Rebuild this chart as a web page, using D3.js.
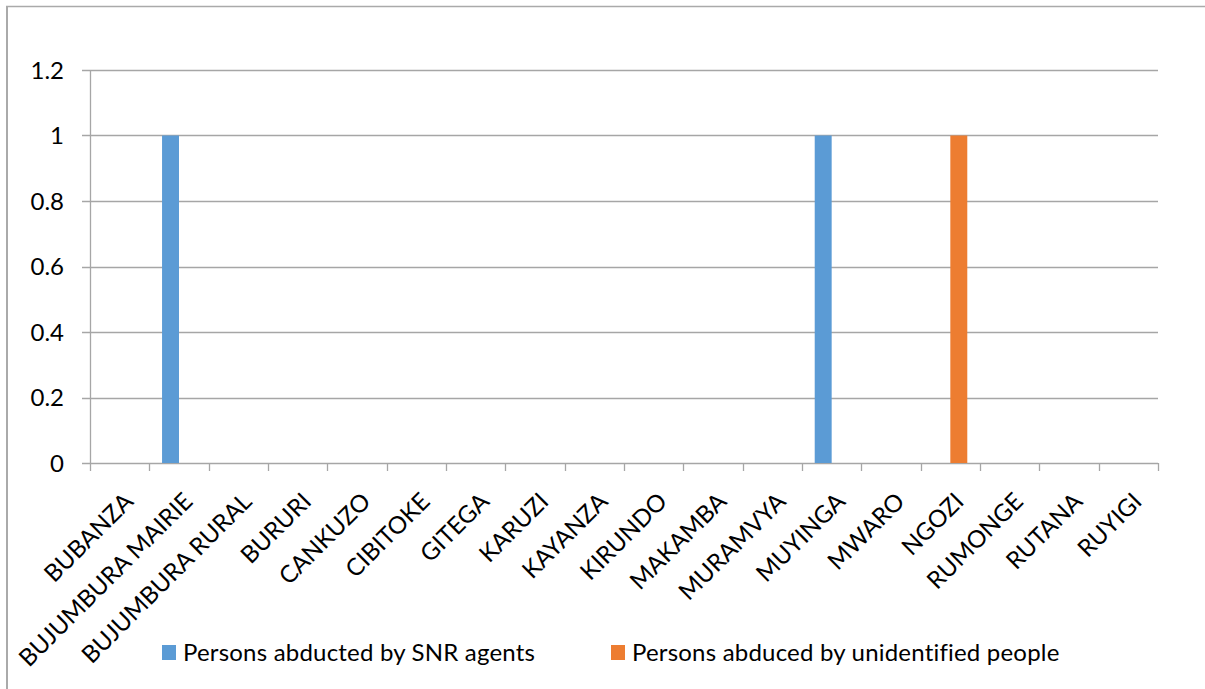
<!DOCTYPE html>
<html lang="en">
<head>
    <meta charset="UTF-8">
    <title>Abductions by province</title>
    <script src="https://d3js.org/d3.v7.min.js"></script>
    <style>
        body { margin: 0; background: #fff; }
        text { font-family: Lato, "Open Sans", sans-serif; fill: #000; }
    </style>
</head>
<body>
<script>
    // data
    const provinces = ["BUBANZA", "BUJUMBURA MAIRIE", "BUJUMBURA RURAL", "BURURI", "CANKUZO",
        "CIBITOKE", "GITEGA", "KARUZI", "KAYANZA", "KIRUNDO", "MAKAMBA", "MURAMVYA",
        "MUYINGA", "MWARO", "NGOZI", "RUMONGE", "RUTANA", "RUYIGI"];
    const seriesNames = ["Persons abducted by SNR agents", "Persons abduced by unidentified people"];
    const snrAgents =    [0, 1, 0, 0, 0, 0, 0, 0, 0, 0, 0, 0, 1, 0, 0, 0, 0, 0];
    const unidentified = [0, 0, 0, 0, 0, 0, 0, 0, 0, 0, 0, 0, 0, 0, 1, 0, 0, 0];
    const yTicks = [0, 0.2, 0.4, 0.6, 0.8, 1, 1.2];
    const colors = ["#5b9bd5", "#ed7d31"];

    const W = 1205, H = 689;
    const plotLeft = 90, plotRight = 1158, plotTop = 70, plotBottom = 463;
    const gridColor = "#a6a6a6";

    const svg = d3.select("body").append("svg")
        .attr("width", W)
        .attr("height", H);

    // frame (only left and top edges show in the picture)
    svg.append("line").attr("x1", 7).attr("x2", 7).attr("y1", 6).attr("y2", H)
        .style("stroke", "#aaaaaa").style("stroke-width", 2);
    svg.append("line").attr("x1", 6).attr("x2", W).attr("y1", 6.5).attr("y2", 6.5)
        .style("stroke", "#aaaaaa").style("stroke-width", 1.5);

    const x = d3.scaleBand().domain(provinces).range([plotLeft, plotRight]);
    const x1 = d3.scaleBand().domain(seriesNames).range([0, x.bandwidth()]).paddingOuter(0.75);
    const y = d3.scaleLinear().domain([0, 1.2]).range([plotBottom, plotTop]);

    // gridlines + left ticks
    svg.append("g")
        .selectAll("line").data(yTicks).enter().append("line")
        .attr("x1", plotLeft - 8).attr("x2", plotRight)
        .attr("y1", d => Math.round(y(d)) + 0.5).attr("y2", d => Math.round(y(d)) + 0.5)
        .style("stroke", gridColor).style("stroke-width", 1.3);

    svg.append("g")
        .selectAll("text").data(yTicks).enter().append("text")
        .attr("x", 64).attr("y", d => y(d) + 8.5)
        .attr("text-anchor", "end")
        .style("font-size", "24px")
        .text(d => d);

    // y axis line
    svg.append("line").attr("x1", plotLeft + 0.5).attr("x2", plotLeft + 0.5).attr("y1", plotTop).attr("y2", plotBottom)
        .style("stroke", gridColor).style("stroke-width", 1.3);

    // category ticks at band boundaries
    const bounds = provinces.map(p => x(p)).concat([plotRight]);
    svg.append("g")
        .selectAll("line").data(bounds).enter().append("line")
        .attr("x1", d => Math.round(d) + 0.5).attr("x2", d => Math.round(d) + 0.5)
        .attr("y1", plotBottom).attr("y2", plotBottom + 8)
        .style("stroke", gridColor).style("stroke-width", 1.3);

    // bars
    const rows = provinces.map((p, i) => ({p: p, vals: [snrAgents[i], unidentified[i]]}));
    svg.append("g")
        .selectAll("g").data(rows).enter().append("g")
        .attr("transform", d => `translate(${x(d.p)},0)`)
        .selectAll("rect").data(d => d.vals.map((v, k) => ({s: seriesNames[k], v: v, k: k})))
        .enter().append("rect")
        .attr("x", d => x1(d.s))
        .attr("width", x1.bandwidth())
        .attr("y", d => y(d.v))
        .attr("height", d => y(0) - y(d.v))
        .style("fill", d => colors[d.k]);

    // rotated category labels
    svg.append("g")
        .selectAll("text").data(provinces).enter().append("text")
        .attr("text-anchor", "end")
        .attr("transform", d => `translate(${x(d) + x.bandwidth() / 2 + 15},503) rotate(-45)`)
        .style("font-size", "24px")
        .text(d => d);

    // legend
    const legendX = [162, 611];
    const legend = svg.append("g")
        .selectAll("g").data(seriesNames).enter().append("g")
        .attr("transform", (d, i) => `translate(${legendX[i]},645)`);
    legend.append("rect")
        .attr("width", 14).attr("height", 15)
        .style("fill", (d, i) => colors[i]);
    legend.append("text")
        .attr("x", 21).attr("y", 15.5)
        .style("font-size", "24px")
        .style("letter-spacing", "0.2px")
        .text(d => d);
</script>
</body>
</html>
